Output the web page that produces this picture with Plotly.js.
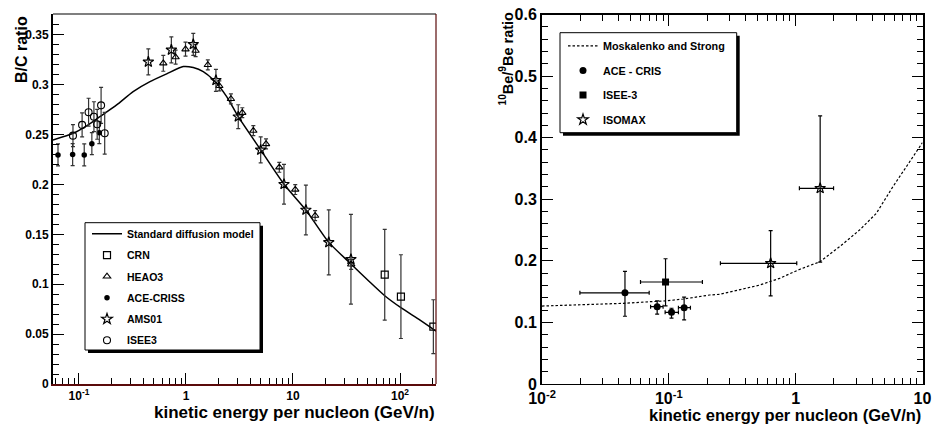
<!DOCTYPE html>
<html>
<head>
<meta charset="utf-8">
<script src="https://cdn.plot.ly/plotly-3.0.1.min.js"></script>
<style>
html,body{margin:0;padding:0;background:#fff;}
#chart{width:932px;height:425px;}
</style>
</head>
<body>
<div id="chart"></div>
<script>
// ---------- Left panel: B/C ratio ----------
var modelE  = [0.0572, 0.0885, 0.118, 0.157, 0.225, 0.321, 0.461, 0.661, 0.944, 1.17, 1.45, 1.80, 2.40, 3.08, 4.99, 8.24, 13.2, 21.6, 34.8, 52.5, 72, 102, 154, 217];
var modelBC = [0.2447, 0.2514, 0.2588, 0.268, 0.2798, 0.2932, 0.3032, 0.311, 0.3183, 0.3173, 0.3133, 0.305, 0.2882, 0.268, 0.2347, 0.2003, 0.1745, 0.142, 0.1204, 0.102, 0.0885, 0.0765, 0.064, 0.053];

var crnE   = [72, 102, 205];
var crnBC  = [0.1096, 0.0876, 0.0575];
var crnErr = [0.0455, 0.042, 0.027];

var heaoE   = [0.614, 0.80, 0.99, 1.23, 1.60, 2.05, 2.63, 3.36, 4.26, 5.6, 7.45, 10.5, 16.1, 35];
var heaoBC  = [0.3216, 0.3277, 0.3357, 0.3343, 0.32, 0.2989, 0.2859, 0.272, 0.254, 0.2407, 0.2173, 0.195, 0.1688, 0.12];
var heaoErr = [0.008, 0.007, 0.007, 0.006, 0.005, 0.005, 0.005, 0.005, 0.005, 0.005, 0.005, 0.005, 0.005, 0.005];

var aceE   = [0.0637, 0.0873, 0.112, 0.132, 0.155];
var aceBC  = [0.2297, 0.230, 0.2297, 0.241, 0.252];
var aceErr = [0.011, 0.011, 0.011, 0.011, 0.011];

var amsE   = [0.445, 0.73, 1.17, 1.905, 3.08, 4.99, 8.24, 13.2, 21.6, 34.8];
var amsBC  = [0.323, 0.335, 0.3406, 0.3045, 0.268, 0.2347, 0.2003, 0.1745, 0.142, 0.125];
var amsErr = [0.013, 0.013, 0.011, 0.011, 0.012, 0.013, 0.02, 0.025, 0.0326, 0.045];

var iseeE   = [0.0879, 0.107, 0.123, 0.138, 0.148, 0.161, 0.174];
var iseeBC  = [0.249, 0.2598, 0.2725, 0.268, 0.2604, 0.2794, 0.2514];
var iseeErr = [0.011, 0.012, 0.014, 0.015, 0.015, 0.018, 0.021];

var leftXTickVals = [0.1, 1, 10, 100];
var leftXTickText = ['10<sup>-1</sup>', '1', '10', '10<sup>2</sup>'];
var leftXMinor = [0.06, 0.07, 0.08, 0.09, 0.2, 0.3, 0.4, 0.5, 0.6, 0.7, 0.8, 0.9, 2, 3, 4, 5, 6, 7, 8, 9, 20, 30, 40, 50, 60, 70, 80, 90, 200];

// ---------- Right panel: 10Be/9Be ratio ----------
var msE = [0.01, 0.0232, 0.0437, 0.0708, 0.096, 0.130, 0.165, 0.21, 0.252, 0.362, 0.521, 0.748, 1.07, 1.55, 2.22, 3.19, 4.32, 5.83, 7.43, 9.46, 10];
var msR = [0.1266, 0.1287, 0.131, 0.1336, 0.135, 0.138, 0.1417, 0.1445, 0.1456, 0.1526, 0.1607, 0.1716, 0.186, 0.1985, 0.2229, 0.25, 0.277, 0.320, 0.3528, 0.385, 0.392];

var criE   = [0.0451, 0.0809, 0.105, 0.132];
var criR   = [0.148, 0.1255, 0.1164, 0.124];
var criElo = [0.0199, 0.0718, 0.0935, 0.119];
var criEhi = [0.070, 0.0901, 0.119, 0.148];
var criRlo = [0.110, 0.1136, 0.107, 0.104];
var criRhi = [0.183, 0.135, 0.123, 0.141];

var i3E   = [0.0942];
var i3R   = [0.1656];
var i3Elo = [0.0598];
var i3Ehi = [0.184];
var i3Rlo = [0.127];
var i3Rhi = [0.2034];

var isoE   = [0.635, 1.56];
var isoR   = [0.196, 0.3177];
var isoElo = [0.255, 1.07];
var isoEhi = [1.02, 1.99];
var isoRlo = [0.143, 0.198];
var isoRhi = [0.249, 0.4355];

var rightXTickVals = [0.01, 0.1, 1, 10];
var rightXTickText = ['10<sup>-2</sup>', '10<sup>-1</sup>', '1', '10'];
var rightXMinor = [0.02, 0.03, 0.04, 0.05, 0.06, 0.07, 0.08, 0.09, 0.2, 0.3, 0.4, 0.5, 0.6, 0.7, 0.8, 0.9, 2, 3, 4, 5, 6, 7, 8, 9];

function plus(v, hi){ return v.map(function(a,i){ return hi[i]-a; }); }
function minus(v, lo){ return v.map(function(a,i){ return a-lo[i]; }); }

var FONT = 'Liberation Sans, Arial, Helvetica, sans-serif';
var ERRC = '#333';

function eb(arr){ return {type:'data', array:arr, symmetric:true, color:ERRC, thickness:1.2, width:2}; }
function eb2(v, lo, hi){ return {type:'data', array:plus(v,hi), arrayminus:minus(v,lo), color:'#000', thickness:1.2, width:2}; }

var data = [
  {x:modelE, y:modelBC, type:'scatter', mode:'lines', name:'Standard diffusion model',
   line:{color:'#000', width:1.5, shape:'spline', smoothing:0.6}, xaxis:'x', yaxis:'y', legend:'legend', legendgroup:'a'},
  {x:crnE, y:crnBC, type:'scatter', mode:'markers', name:'CRN', error_y:eb(crnErr),
   marker:{symbol:'square-open', size:7, color:'#000', line:{width:1.2, color:'#000'}}, xaxis:'x', yaxis:'y', legend:'legend', legendgroup:'b'},
  {x:heaoE, y:heaoBC, type:'scatter', mode:'markers', name:'HEAO3', error_y:eb(heaoErr),
   marker:{symbol:'triangle-up-open', size:6.5, color:'#000', line:{width:1.1, color:'#000'}}, xaxis:'x', yaxis:'y', legend:'legend', legendgroup:'c'},
  {x:aceE, y:aceBC, type:'scatter', mode:'markers', name:'ACE-CRISS', error_y:eb(aceErr),
   marker:{symbol:'circle', size:5.5, color:'#000'}, xaxis:'x', yaxis:'y', legend:'legend', legendgroup:'d'},
  {x:amsE, y:amsBC, type:'scatter', mode:'markers', name:'AMS01', error_y:eb(amsErr),
   marker:{symbol:'star-open', size:8, color:'#000', line:{width:1.2, color:'#000'}}, xaxis:'x', yaxis:'y', legend:'legend', legendgroup:'e'},
  {x:iseeE, y:iseeBC, type:'scatter', mode:'markers', name:'ISEE3', error_y:eb(iseeErr),
   marker:{symbol:'circle-open', size:7, color:'#000', line:{width:1.1, color:'#000'}}, xaxis:'x', yaxis:'y', legend:'legend', legendgroup:'f'},

  {x:msE, y:msR, type:'scatter', mode:'lines', name:'Moskalenko and Strong',
   line:{color:'#000', width:1.2, dash:'2.5px,2px'}, xaxis:'x2', yaxis:'y2', legend:'legend2', legendgroup:'g'},
  {x:criE, y:criR, type:'scatter', mode:'markers', name:'ACE - CRIS',
   error_y:eb2(criR, criRlo, criRhi), error_x:eb2(criE, criElo, criEhi),
   marker:{symbol:'circle', size:7, color:'#000'}, xaxis:'x2', yaxis:'y2', legend:'legend2', legendgroup:'h'},
  {x:i3E, y:i3R, type:'scatter', mode:'markers', name:'ISEE-3',
   error_y:eb2(i3R, i3Rlo, i3Rhi), error_x:eb2(i3E, i3Elo, i3Ehi),
   marker:{symbol:'square', size:7, color:'#000'}, xaxis:'x2', yaxis:'y2', legend:'legend2', legendgroup:'i'},
  {x:isoE, y:isoR, type:'scatter', mode:'markers', name:'ISOMAX',
   error_y:eb2(isoR, isoRlo, isoRhi), error_x:eb2(isoE, isoElo, isoEhi),
   marker:{symbol:'star-open', size:8, color:'#000', line:{width:1.2, color:'#000'}}, xaxis:'x2', yaxis:'y2', legend:'legend2', legendgroup:'j'}
];

var W = 932, H = 425;
var tickFont = {family:FONT, size:12, color:'#000', weight:700};
var tickFontR = {family:FONT, size:16, color:'#000', weight:700};

function px2paperX(p){ return p / W; }
function px2paperY(p){ return 1 - p / H; }

// ROOT-style legend frame (box + drop shadow), in pixels
function legendFrame(l, t, r, b){
  return [
    {type:'rect', xref:'paper', yref:'paper', layer:'above',
     x0:px2paperX(l+3), x1:px2paperX(r+3), y0:px2paperY(b+3), y1:px2paperY(t+3), fillcolor:'#000', line:{width:0}},
    {type:'rect', xref:'paper', yref:'paper', layer:'above',
     x0:px2paperX(l), x1:px2paperX(r), y0:px2paperY(b), y1:px2paperY(t), fillcolor:'#fff', line:{color:'#000', width:1}}
  ];
}

var layout = {
  width:W, height:H,
  margin:{l:0, r:0, t:0, b:0},
  paper_bgcolor:'#fff', plot_bgcolor:'#fff',
  font:{family:FONT, color:'#000'},
  showlegend:true,
  xaxis:{
    domain:[53/W, 436/W], anchor:'y', type:'log',
    range:[Math.log10(0.0572), Math.log10(217)],
    tickmode:'array', tickvals:leftXTickVals, ticktext:leftXTickText,
    ticks:'inside', ticklen:11, tickwidth:1, tickcolor:'#000',
    minor:{tickmode:'array', tickvals:leftXMinor, ticks:'inside', ticklen:6, tickcolor:'#000', tickwidth:1},
    showline:true, linecolor:'#5a0a0a', linewidth:2, showgrid:false, zeroline:false,
    tickfont:tickFont
  },
  yaxis:{
    domain:[41/H, 411/H], anchor:'x',
    range:[0, 0.371], tickmode:'linear', tick0:0, dtick:0.05,
    ticks:'inside', ticklen:11, tickwidth:1, tickcolor:'#000',
    minor:{dtick:0.01, ticks:'inside', ticklen:6, tickcolor:'#000', tickwidth:1},
    showline:true, linecolor:'#000', linewidth:2, showgrid:false, zeroline:false,
    tickfont:tickFont
  },
  xaxis2:{
    domain:[542/W, 922.5/W], anchor:'y2', type:'log',
    range:[-2, 1],
    tickmode:'array', tickvals:rightXTickVals, ticktext:rightXTickText,
    ticks:'inside', ticklen:11, tickwidth:1, tickcolor:'#000',
    minor:{tickmode:'array', tickvals:rightXMinor, ticks:'inside', ticklen:6, tickcolor:'#000', tickwidth:1},
    showline:true, linecolor:'#000', linewidth:1.2, mirror:'ticks', showgrid:false, zeroline:false,
    tickfont:tickFontR
  },
  yaxis2:{
    domain:[41/H, 410.5/H], anchor:'x2',
    range:[0, 0.6], tickmode:'linear', tick0:0, dtick:0.1,
    ticks:'inside', ticklen:11, tickwidth:1, tickcolor:'#000',
    minor:{dtick:0.02, ticks:'inside', ticklen:6, tickcolor:'#000', tickwidth:1},
    showline:true, linecolor:'#000', linewidth:2, mirror:'ticks', showgrid:false, zeroline:false,
    tickfont:tickFontR
  },
  legend:{
    x:px2paperX(87), y:px2paperY(219.3), xanchor:'left', yanchor:'top',
    bgcolor:'rgba(0,0,0,0)', borderwidth:0,
    traceorder:'grouped', tracegroupgap:2.3,
    font:{family:FONT, size:10.5, color:'#000', weight:700}
  },
  legend2:{
    x:px2paperX(563), y:px2paperY(31.3), xanchor:'left', yanchor:'top',
    bgcolor:'rgba(0,0,0,0)', borderwidth:0,
    traceorder:'grouped', tracegroupgap:5.6,
    font:{family:FONT, size:10.8, color:'#000', weight:700}
  },
  shapes:[
    {type:'line', xref:'x domain', yref:'y domain', x0:0, x1:1, y0:1, y1:1, line:{color:'#000', width:1.2}},
    {type:'line', xref:'x domain', yref:'y domain', x0:1, x1:1, y0:0, y1:1, line:{color:'#5a0a0a', width:1.2}}
  ].concat(legendFrame(85, 222.7, 260, 350), legendFrame(560, 32.7, 736.7, 132.7)),
  annotations:[
    {text:'B/C ratio', xref:'paper', yref:'paper', x:11/W, y:1-14/H, xanchor:'left', yanchor:'top',
     textangle:-90, showarrow:false, font:{family:FONT, size:16, color:'#000', weight:700}},
    {text:'kinetic energy per nucleon (GeV/n)', xref:'paper', yref:'paper', x:437/W, y:1-412.5/H, xanchor:'right', yanchor:'middle',
     showarrow:false, font:{family:FONT, size:17, color:'#000', weight:700}},
    {text:'<sup>10</sup>Be/<sup>9</sup>Be ratio', xref:'paper', yref:'paper', x:506/W, y:1-58.5/H, xanchor:'center', yanchor:'middle',
     textangle:-90, showarrow:false, font:{family:FONT, size:14.5, color:'#000', weight:700}},
    {text:'kinetic energy per nucleon (GeV/n)', xref:'paper', yref:'paper', x:923/W, y:1-415/H, xanchor:'right', yanchor:'middle',
     showarrow:false, font:{family:FONT, size:16.5, color:'#000', weight:700}}
  ]
};

var gd = document.getElementById('chart');
Plotly.newPlot(gd, data, layout, {displayModeBar:false, staticPlot:true});
</script>
</body>
</html>
